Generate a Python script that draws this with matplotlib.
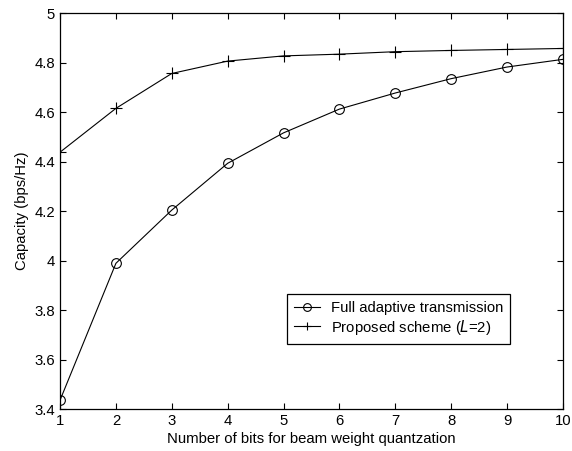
import matplotlib
matplotlib.use("Agg")
import matplotlib.pyplot as plt

plt.rcParams['font.family'] = ['Liberation Sans', 'DejaVu Sans']

bits = [1, 2, 3, 4, 5, 6, 7, 8, 9, 10]
full_adaptive = [3.436, 3.989, 4.204, 4.393, 4.516, 4.612, 4.677, 4.735, 4.782, 4.813]
proposed = [4.438, 4.615, 4.756, 4.806, 4.827, 4.834, 4.844, 4.849, 4.853, 4.857]

fs = 10.7

fig = plt.figure(figsize=(5.72, 4.51), dpi=100)
ax = fig.add_axes([0.105, 0.093, 0.879, 0.878])

ax.plot(bits, full_adaptive, color='black', lw=0.8, marker='o', ms=7,
        mfc='none', mew=0.8, label='Full adaptive transmission')
ax.plot(bits, proposed, color='black', lw=0.8, marker='+', ms=8,
        mew=0.8, label='Proposed scheme ($\\mathit{L}$=2)')

ax.set_xlim(1, 10)
ax.set_ylim(3.4, 5)
ax.set_xticks(bits)
ax.set_yticks([3.4, 3.6, 3.8, 4.0, 4.2, 4.4, 4.6, 4.8, 5.0])
ax.set_yticklabels(['3.4', '3.6', '3.8', '4', '4.2', '4.4', '4.6', '4.8', '5'])
ax.tick_params(direction='in', top=True, right=True, labelsize=fs, length=4, width=0.8)
for s in ax.spines.values():
    s.set_linewidth(0.9)

ax.set_xlabel('Number of bits for beam weight quantzation', fontsize=fs, labelpad=3)
ax.set_ylabel('Capacity (bps/Hz)', fontsize=fs, labelpad=4)

leg = ax.legend(loc='lower left', bbox_to_anchor=(0.451, 0.164), fontsize=fs,
                frameon=True, fancybox=False, edgecolor='black', framealpha=1,
                handlelength=1.75, borderpad=0.5, labelspacing=0.15, handletextpad=0.7,
                borderaxespad=0, markerscale=0.8)
leg.get_frame().set_linewidth(0.9)

fig.savefig('out.png', dpi=100)
